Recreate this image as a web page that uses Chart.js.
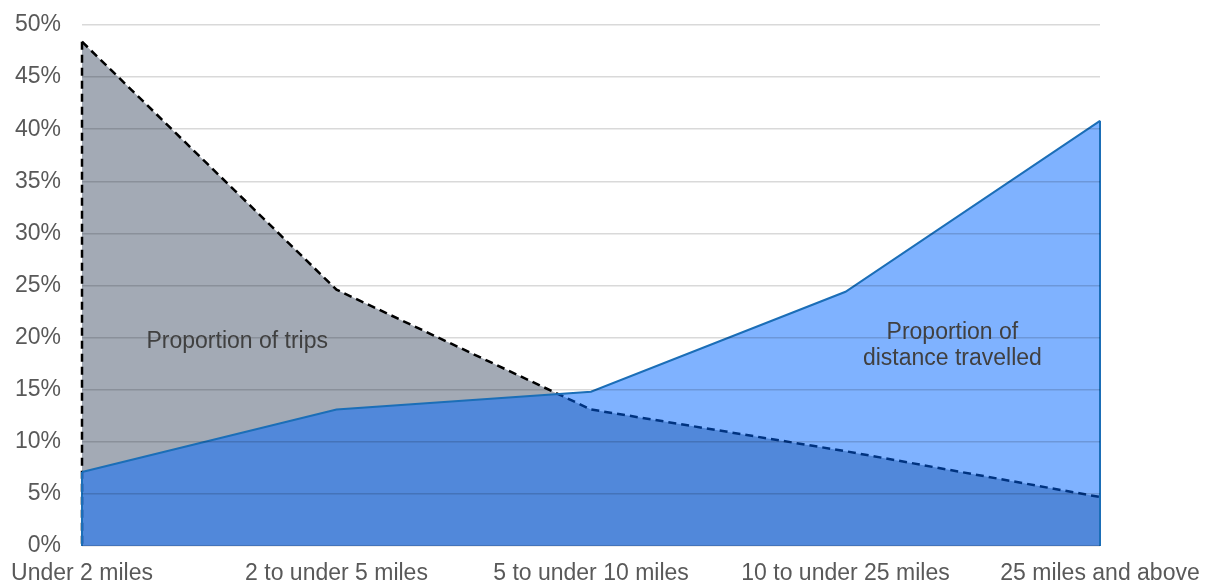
<!DOCTYPE html>
<html>
<head>
<meta charset="utf-8">
<script src="https://cdn.jsdelivr.net/npm/chart.js@4/dist/chart.umd.min.js"></script>
<style>
  html, body { margin: 0; padding: 0; background: #fff; }
  #wrap { width: 1215px; height: 585px; }
</style>
</head>
<body>
<div id="wrap"><canvas id="chart"></canvas></div>
<script>
const categories = ['Under 2 miles', '2 to under 5 miles', '5 to under 10 miles', '10 to under 25 miles', '25 miles and above'];
const tripsShare = [48.4, 24.6, 13.1, 9.1, 4.7];
const distanceShare = [7.1, 13.1, 14.8, 24.4, 40.8];
const yTicks = [0, 5, 10, 15, 20, 25, 30, 35, 40, 45, 50];

const FONT = '"Liberation Sans", Arial, sans-serif';

// vertical edges of the area shapes, like the original spreadsheet chart
const edgePlugin = {
  id: 'edges',
  afterDatasetDraw(chart, args) {
    const meta = args.meta;
    const ds = chart.data.datasets[args.index];
    const base = chart.scales.y.getPixelForValue(0);
    const ctx = chart.ctx;
    const pts = [];
    if (ds.edges.includes('left')) pts.push(meta.data[0]);
    if (ds.edges.includes('right')) pts.push(meta.data[meta.data.length - 1]);
    ctx.save();
    ctx.strokeStyle = ds.borderColor;
    ctx.lineWidth = ds.borderWidth;
    ctx.setLineDash(ds.borderDash || []);
    pts.forEach(pt => {
      ctx.beginPath();
      ctx.moveTo(pt.x, pt.y);
      ctx.lineTo(pt.x, base);
      ctx.stroke();
    });
    ctx.restore();
  }
};

const labelPlugin = {
  id: 'areaLabels',
  afterDraw(chart) {
    const ctx = chart.ctx;
    const x = chart.scales.x, y = chart.scales.y;
    const labels = [
      { lines: ['Proportion of trips'], at: 0.61, val: 19.6 },
      { lines: ['Proportion of', 'distance travelled'], at: 3.42, val: 19.2 }
    ];
    ctx.save();
    ctx.font = '23px ' + FONT;
    ctx.fillStyle = '#404040';
    ctx.textAlign = 'center';
    ctx.textBaseline = 'middle';
    labels.forEach(l => {
      const px = x.getPixelForValue(l.at);
      const py = y.getPixelForValue(l.val);
      const lh = 26;
      const top = py - (l.lines.length - 1) * lh / 2;
      l.lines.forEach((t, i) => ctx.fillText(t, px, top + i * lh));
    });
    ctx.restore();
  }
};

new Chart(document.getElementById('chart'), {
  type: 'line',
  data: {
    labels: categories,
    datasets: [
      {
        label: 'Proportion of distance travelled',
        data: distanceShare,
        borderColor: '#1B6EB7',
        borderWidth: 2,
        backgroundColor: 'rgba(0, 101, 255, 0.5)',
        fill: 'origin',
        pointRadius: 0,
        tension: 0,
        order: 0,
        edges: ['left', 'right']
      },
      {
        label: 'Proportion of trips',
        data: tripsShare,
        borderColor: '#000000',
        borderWidth: 2.5,
        borderDash: [8, 5],
        backgroundColor: '#A3AAB5',
        fill: 'origin',
        pointRadius: 0,
        tension: 0,
        order: 1,
        edges: ['left']
      }
    ]
  },
  options: {
    responsive: true,
    maintainAspectRatio: false,
    animation: false,
    layout: { padding: { top: 25, right: 115, left: 15, bottom: 0 } },
    plugins: {
      legend: { display: false },
      tooltip: { enabled: false }
    },
    scales: {
      x: {
        offset: false,
        grid: { display: false, drawTicks: false },
        border: { display: false },
        ticks: {
          color: '#595959',
          font: { family: FONT, size: 23 },
          maxRotation: 0,
          autoSkip: false,
          padding: 14
        },
        afterFit(axis) {
          axis.height = 39;
          axis.paddingLeft = 0;
          axis.paddingRight = 0;
        }
      },
      y: {
        min: 0,
        max: 50,
        afterBuildTicks(axis) { axis.ticks = yTicks.map(v => ({ value: v })); },
        grid: { color: 'rgba(0,0,0,0.15)', lineWidth: 1.5, drawTicks: false, z: 1 },
        border: { display: false },
        ticks: {
          color: '#595959',
          font: { family: FONT, size: 23 },
          padding: 21,
          callback: v => v + '%'
        },
        afterFit(axis) {
          axis.width = 67;
          axis.paddingTop = 0;
          axis.paddingBottom = 0;
        }
      }
    }
  },
  plugins: [edgePlugin, labelPlugin]
});
</script>
</body>
</html>
